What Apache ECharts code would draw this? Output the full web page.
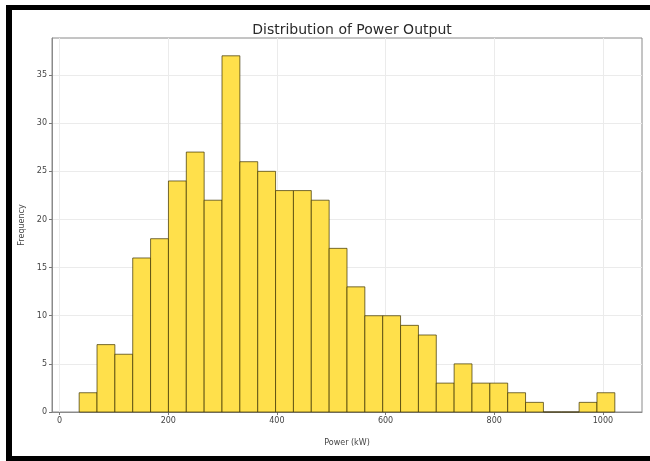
<!DOCTYPE html>
<html>
<head>
<meta charset="utf-8">
<script src="https://cdn.jsdelivr.net/npm/echarts@6/dist/echarts.min.js"></script>
<style>
    html, body { margin: 0; padding: 0; background: #fff; }
    #wrap { position: relative; width: 650px; height: 461px; overflow: hidden; }
    #chart { position: absolute; left: 0; top: 0; width: 650px; height: 461px; }
    #frame {
        position: absolute; left: 6px; top: 5px; width: 700px; height: 446px;
        border-left: 6px solid #000; border-top: 5px solid #000; border-bottom: 5px solid #000;
        pointer-events: none;
    }
</style>
</head>
<body>
<div id="wrap">
    <div id="chart"></div>
    <div id="frame"></div>
</div>
<script>
(function () {

    'use strict';

    // 直方图的计数（30 个区间）
    var counts = [2, 7, 6, 16, 18, 24, 27, 22, 37, 26, 25, 23, 23, 22, 17,
                  13, 10, 10, 9, 8, 3, 5, 3, 3, 2, 1, 0, 0, 1, 2];
    // 区间的左右端点 (kW)
    var binRange = [36, 1022];
    // 刻度
    var xTicks = [0, 200, 400, 600, 800, 1000];
    var yTicks = [0, 5, 10, 15, 20, 25, 30, 35];

    var binWidth = (binRange[1] - binRange[0]) / counts.length;
    var bins = counts.map(function (c, i) {
        return [binRange[0] + i * binWidth, binRange[0] + (i + 1) * binWidth, c];
    });

    var font = 'DejaVu Sans';
    var myChart = echarts.init(document.getElementById('chart'));

    var option = {
        animation: false,
        title: {
            text: 'Distribution of Power Output',
            left: 347,
            textAlign: 'center',
            top: 18,
            textStyle: { fontFamily: font, fontSize: 14, fontWeight: 'normal', color: '#2a2a2a' }
        },
        grid: {
            left: 52, right: 8, top: 38, bottom: 49,
            show: true, borderColor: '#8a8a8a', borderWidth: 1
        },
        xAxis: {
            type: 'value',
            min: -14,
            max: 1072,
            name: 'Power (kW)',
            nameLocation: 'middle',
            nameGap: 27,
            nameTextStyle: { fontFamily: font, fontSize: 8, color: '#444' },
            axisLine: { show: true, onZero: false, lineStyle: { color: '#8a8a8a' } },
            axisTick: { show: true, customValues: xTicks, length: 3, lineStyle: { color: '#777' } },
            axisLabel: {
                customValues: xTicks, fontFamily: font, fontSize: 8, color: '#444', margin: 5,
                formatter: function (v) { return String(v); }
            },
            splitLine: { show: true, lineStyle: { color: '#ebebeb', width: 1 } }
        },
        yAxis: {
            type: 'value',
            min: 0,
            max: 38.85,
            name: 'Frequency',
            nameLocation: 'middle',
            nameGap: 26,
            nameMoveOverlap: false,
            nameTextStyle: { fontFamily: font, fontSize: 8, color: '#444' },
            axisLine: { show: true, onZero: false, lineStyle: { color: '#8a8a8a' } },
            axisTick: { show: true, customValues: yTicks, length: 3, lineStyle: { color: '#777' } },
            axisLabel: { customValues: yTicks, fontFamily: font, fontSize: 8, color: '#444', margin: 5 },
            splitLine: { show: true, lineStyle: { color: '#ebebeb', width: 1 } }
        },
        series: [{
            type: 'custom',
            data: bins,
            encode: { x: [0, 1], y: 2 },
            renderItem: function (params, api) {
                var p0 = api.coord([api.value(0), api.value(2)]);
                var p1 = api.coord([api.value(1), 0]);
                return {
                    type: 'rect',
                    shape: { x: p0[0], y: p0[1], width: p1[0] - p0[0], height: p1[1] - p0[1] },
                    style: { fill: '#FFE04B', stroke: 'rgba(60,50,0,0.7)', lineWidth: 1 }
                };
            }
        }]
    };

    myChart.setOption(option);
})();
</script>
</body>
</html>
